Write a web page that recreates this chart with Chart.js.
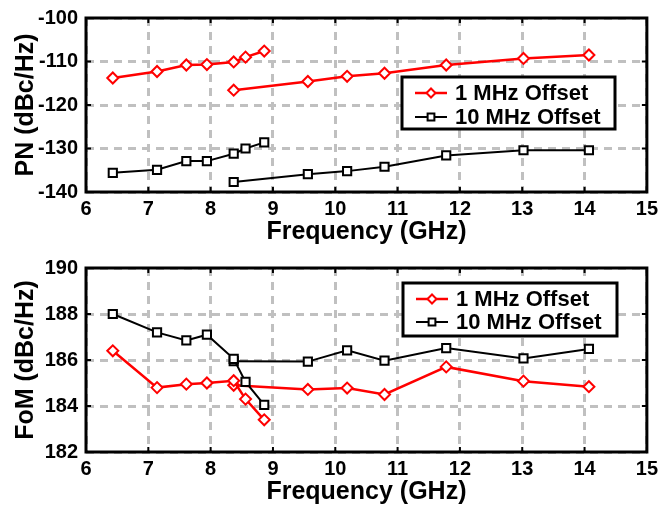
<!DOCTYPE html>
<html>
<head>
<meta charset="utf-8">
<script src="https://cdn.jsdelivr.net/npm/chart.js@4.4.0/dist/chart.umd.min.js"></script>
<style>
  html, body { margin: 0; padding: 0; background: #fff; }
  #wrap { position: relative; width: 665px; height: 509px; }
  #pnChart { position: absolute; left: 0; top: 0; }
  #fomChart { position: absolute; left: 0; top: 250px; }
</style>
</head>
<body>
<div id="wrap">
  <canvas id="pnChart" width="665" height="250"></canvas>
  <canvas id="fomChart" width="665" height="259"></canvas>
</div>
<script>
/* ====== DATA ====== */
const freqBand1 = [6.43, 7.14, 7.61, 7.94, 8.37, 8.56, 8.86];
const freqBand2 = [8.37, 9.56, 10.19, 10.79, 11.78, 13.02, 14.07];

const pn1MHzBand1 = [-113.8, -112.3, -110.8, -110.7, -110.1, -109.0, -107.6];
const pn1MHzBand2 = [-116.6, -114.6, -113.4, -112.7, -110.8, -109.3, -108.5];
const pn10MHzBand1 = [-135.6, -134.9, -132.9, -132.9, -131.2, -130.0, -128.6];
const pn10MHzBand2 = [-137.7, -135.9, -135.2, -134.2, -131.6, -130.4, -130.4];

const fom1MHzBand1 = [186.4, 184.8, 184.95, 185.0, 185.1, 184.3, 183.4];
const fom1MHzBand2 = [184.9, 184.72, 184.78, 184.5, 185.7, 185.08, 184.84];
const fom10MHzBand1 = [188.0, 187.2, 186.85, 187.1, 186.05, 185.05, 184.05];
const fom10MHzBand2 = [185.95, 185.93, 186.42, 185.97, 186.52, 186.07, 186.48];

const seriesLabels = ["1 MHz Offset", "10 MHz Offset"];

const FONT = "'Liberation Sans', Arial, sans-serif";

function pts(xs, ys) {
  return xs.map((x, i) => ({ x: x, y: ys[i] }));
}

// style per offset
const styles = [
  { color: "#ff0000", pointStyle: "rectRot", radius: 5.5, lineWidth: 2.5, order: 1 },
  { color: "#000000", pointStyle: "rect", radius: 5.8, lineWidth: 2, order: 0 }
];

function makeDataset(seriesIdx, xs, ys) {
  const s = styles[seriesIdx];
  return {
    label: seriesLabels[seriesIdx],
    data: pts(xs, ys),
    borderColor: s.color,
    borderWidth: s.lineWidth,
    backgroundColor: "#ffffff",
    pointStyle: s.pointStyle,
    pointRadius: s.radius,
    pointBorderWidth: 2,
    pointBorderColor: s.color,
    pointBackgroundColor: "#ffffff",
    tension: 0,
    order: s.order
  };
}

/* ====== PLUGINS ====== */
// box around plot + inward tick marks (all four sides)
const framePlugin = {
  id: "frame",
  beforeDatasetsDraw(chart) {
    const { ctx, chartArea: a, scales: { x, y } } = chart;
    const t = 5;
    ctx.save();
    ctx.strokeStyle = "#000";
    ctx.lineWidth = 2;
    ctx.beginPath();
    x.ticks.forEach(tk => {
      const px = x.getPixelForValue(tk.value);
      ctx.moveTo(px, a.bottom); ctx.lineTo(px, a.bottom - t);
      ctx.moveTo(px, a.top); ctx.lineTo(px, a.top + t);
    });
    y.ticks.forEach(tk => {
      const py = y.getPixelForValue(tk.value);
      ctx.moveTo(a.left, py); ctx.lineTo(a.left + t, py);
      ctx.moveTo(a.right, py); ctx.lineTo(a.right - t, py);
    });
    ctx.stroke();
    ctx.lineWidth = 3;
    ctx.strokeRect(a.left, a.top, a.right - a.left, a.bottom - a.top);
    ctx.restore();
  }
};

// MATLAB-style legend box inside the plot
const boxLegendPlugin = {
  id: "boxLegend",
  afterDraw(chart, args, opts) {
    const { ctx } = chart;
    const seen = [];
    const entries = [];
    chart.data.datasets.forEach(ds => {
      if (!seen.includes(ds.label)) { seen.push(ds.label); entries.push(ds); }
    });
    entries.sort((a, b) => seriesLabels.indexOf(a.label) - seriesLabels.indexOf(b.label));

    ctx.save();
    ctx.fillStyle = "#fff";
    ctx.fillRect(opts.left, opts.top, opts.width, opts.height);
    ctx.lineWidth = 3;
    ctx.strokeStyle = "#000";
    ctx.strokeRect(opts.left, opts.top, opts.width, opts.height);

    entries.forEach((ds, i) => {
      const yy = opts.top + opts.rows[i];
      ctx.strokeStyle = ds.borderColor;
      ctx.lineWidth = ds.borderWidth;
      ctx.beginPath();
      ctx.moveTo(opts.left + 13, yy);
      ctx.lineTo(opts.left + 45, yy);
      ctx.stroke();

      ctx.fillStyle = "#fff";
      ctx.strokeStyle = ds.pointBorderColor;
      ctx.lineWidth = 2;
      Chart.helpers.drawPoint(ctx, {
        pointStyle: ds.pointStyle,
        radius: ds.pointRadius - 1,
        rotation: 0,
        borderWidth: 2
      }, opts.left + 29, yy);

      ctx.fillStyle = "#000";
      ctx.font = "bold 22px " + FONT;
      ctx.textAlign = "left";
      ctx.textBaseline = "middle";
      ctx.fillText(ds.label, opts.left + 53, yy + 1);
    });
    ctx.restore();
  }
};

/* ====== CHART BUILDER ====== */
function makeChart(canvasId, cfg) {
  return new Chart(document.getElementById(canvasId), {
    type: "line",
    data: { datasets: cfg.datasets },
    plugins: [framePlugin, boxLegendPlugin],
    options: {
      responsive: false,
      animation: false,
      devicePixelRatio: 1,
      layout: { padding: { top: cfg.padTop, right: 15, left: 0, bottom: 0 } },
      plugins: {
        legend: { display: false },
        tooltip: { enabled: false },
        boxLegend: cfg.legendBox
      },
      scales: {
        x: {
          type: "linear",
          min: 6, max: 15,
          afterFit: s => { s.height = cfg.xAxisHeight; },
          ticks: {
            stepSize: 1,
            color: "#000",
            padding: 7,
            font: { family: FONT, size: 20, weight: "bold", lineHeight: 1 }
          },
          grid: { color: "#c0c0c0", lineWidth: 3, drawTicks: false },
          border: { display: false, dash: [8, 6] },
          title: {
            display: true,
            text: "Frequency (GHz)",
            color: "#000",
            padding: { top: 0, bottom: cfg.xTitlePad },
            font: { family: FONT, size: 25, weight: "bold" }
          }
        },
        y: {
          min: cfg.yMin, max: cfg.yMax,
          afterFit: s => { s.width = 86; },
          ticks: {
            stepSize: cfg.yStep,
            color: "#000",
            padding: 8,
            font: { family: FONT, size: 20, weight: "bold", lineHeight: 1 }
          },
          grid: { color: "#c0c0c0", lineWidth: 3, drawTicks: false },
          border: { display: false, dash: [8, 6] },
          title: {
            display: true,
            text: cfg.yTitle,
            color: "#000",
            padding: { top: 11, bottom: 0 },
            font: { family: FONT, size: 25, weight: "bold" }
          }
        }
      }
    }
  });
}

makeChart("pnChart", {
  yMin: -140, yMax: -100, yStep: 10,
  yTitle: "PN (dBc/Hz)",
  padTop: 10,
  xAxisHeight: 58,
  xTitlePad: 3,
  legendBox: { left: 402, top: 77, width: 213, height: 52, rows: [16, 40] },
  datasets: [
    makeDataset(0, freqBand1, pn1MHzBand1),
    makeDataset(0, freqBand2, pn1MHzBand2),
    makeDataset(1, freqBand1, pn10MHzBand1),
    makeDataset(1, freqBand2, pn10MHzBand2)
  ]
});

makeChart("fomChart", {
  yMin: 182, yMax: 190, yStep: 2,
  yTitle: "FoM (dBc/Hz)",
  padTop: 18,
  xAxisHeight: 57,
  xTitlePad: 2,
  legendBox: { left: 403, top: 33, width: 214, height: 53, rows: [16, 39] },
  datasets: [
    makeDataset(0, freqBand1, fom1MHzBand1),
    makeDataset(0, freqBand2, fom1MHzBand2),
    makeDataset(1, freqBand1, fom10MHzBand1),
    makeDataset(1, freqBand2, fom10MHzBand2)
  ]
});
</script>
</body>
</html>
